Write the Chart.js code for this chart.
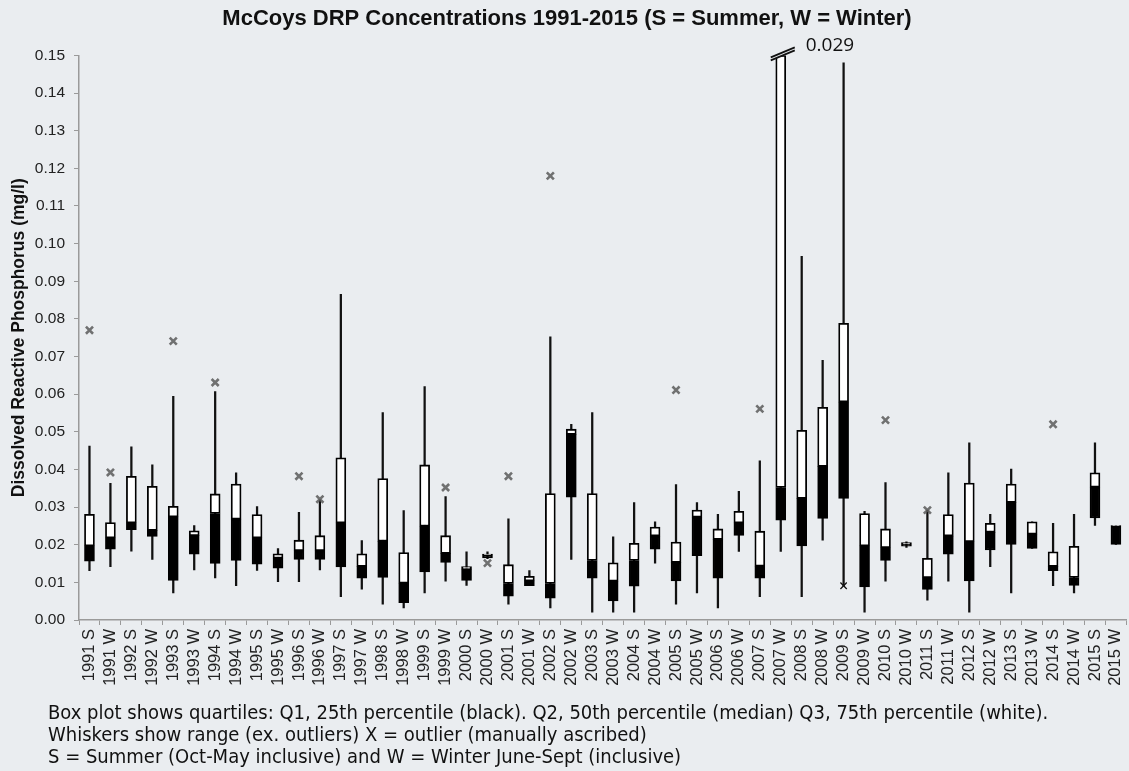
<!DOCTYPE html>
<html>
<head>
<meta charset="utf-8">
<script src="https://cdn.jsdelivr.net/npm/chart.js@4.4.1/dist/chart.umd.min.js"></script>
<style>
  html, body { margin: 0; padding: 0; background: #eaedf0; overflow: hidden; }
  #wrap { position: relative; width: 1129px; height: 771px; overflow: hidden; }
  #c { position: absolute; left: 0; top: 0; }
  #foot { position: absolute; left: 48px; top: 702px; font-family: "Liberation Sans Narrow", "DejaVu Sans Condensed", "Liberation Sans", sans-serif; font-size: 20px; line-height: 21.8px; color: #111; white-space: nowrap; }
</style>
</head>
<body>
<div id="wrap">
  <canvas id="c" width="1134" height="771"></canvas>
  <div id="foot">
    <div>Box plot shows quartiles: Q1, 25th percentile (black). Q2, 50th percentile (median) Q3, 75th percentile (white).</div>
    <div>Whiskers show range (ex. outliers) X = outlier (manually ascribed)</div>
    <div>S = Summer (Oct-May inclusive) and W = Winter June-Sept (inclusive)</div>
  </div>
</div>
<script>
const categories = ["1991 S","1991 W","1992 S","1992 W","1993 S","1993 W","1994 S","1994 W","1995 S","1995 W",
  "1996 S","1996 W","1997 S","1997 W","1998 S","1998 W","1999 S","1999 W","2000 S","2000 W",
  "2001 S","2001 W","2002 S","2002 W","2003 S","2003 W","2004 S","2004 W","2005 S","2005 W",
  "2006 S","2006 W","2007 S","2007 W","2008 S","2008 W","2009 S","2009 W","2010 S","2010 W",
  "2011 S","2011 W","2012 S","2012 W","2013 S","2013 W","2014 S","2014 W","2015 S","2015 W"];

const minVals = [0.0131,0.0142,0.0183,0.0161,0.0072,0.0133,0.0112,0.0091,0.0132,0.0102,
  0.0102,0.0133,0.0062,0.0082,0.0042,0.0032,0.0072,0.0103,0.0092,0.0163,
  0.0042,0.0091,0.0032,0.0161,0.0021,0.0021,0.0021,0.0151,0.0042,0.0072,
  0.0032,0.0182,0.0062,0.0182,0.0062,0.0212,0.0091,0.0021,0.0103,0.0193,
  0.0053,0.0103,0.0021,0.0142,0.0072,0.0190,0.0091,0.0072,0.0251,0.0201];
const q1Vals = [0.0156,0.0188,0.0240,0.0222,0.0105,0.0175,0.0150,0.0158,0.0148,0.0138,
  0.0161,0.0161,0.0141,0.0111,0.0113,0.0046,0.0128,0.0153,0.0105,0.0165,
  0.0063,0.0091,0.0058,0.0326,0.0111,0.0051,0.0090,0.0188,0.0104,0.0171,
  0.0111,0.0225,0.0111,0.0265,0.0197,0.0270,0.0323,0.0088,0.0158,0.0196,
  0.0081,0.0175,0.0104,0.0186,0.0201,0.0190,0.0131,0.0092,0.0271,0.0201];
const medianVals = [0.0197,0.0218,0.0258,0.0238,0.0274,0.0224,0.0283,0.0268,0.0218,0.0164,
  0.0184,0.0184,0.0258,0.0142,0.0209,0.0098,0.0249,0.0177,0.0135,0.0173,
  0.0097,0.0104,0.0097,0.0493,0.0158,0.0103,0.0158,0.0223,0.0153,0.0273,
  0.0214,0.0258,0.0143,0.0352,0.0323,0.0408,0.0579,0.0197,0.0192,0.0202,
  0.0112,0.0223,0.0208,0.0233,0.0312,0.0228,0.0142,0.0113,0.0353,0.0250];
const q3Vals = [0.0281,0.0259,0.0382,0.0355,0.0302,0.0237,0.0335,0.0361,0.0280,0.0176,
  0.0212,0.0224,0.0431,0.0176,0.0376,0.0179,0.0412,0.0224,0.0142,0.0175,
  0.0147,0.0116,0.0336,0.0507,0.0336,0.0152,0.0204,0.0247,0.0207,0.0292,
  0.0242,0.0289,0.0236,0.1500,0.0504,0.0565,0.0788,0.0283,0.0242,0.0206,
  0.0164,0.0280,0.0364,0.0257,0.0361,0.0261,0.0181,0.0196,0.0391,0.0251];
const maxVals = [0.0462,0.0363,0.0460,0.0412,0.0594,0.0251,0.0607,0.0391,0.0301,0.0190,
  0.0286,0.0319,0.0865,0.0211,0.0551,0.0291,0.0620,0.0328,0.0181,0.0181,
  0.0269,0.0131,0.0752,0.0520,0.0551,0.0221,0.0312,0.0261,0.0360,0.0312,
  0.0281,0.0342,0.0423,0.1500,0.0966,0.0690,0.1480,0.0289,0.0365,0.0208,
  0.0292,0.0391,0.0471,0.0281,0.0401,0.0261,0.0257,0.0281,0.0471,0.0251];
const outliers = [0.077,0.0392,null,null,0.0741,null,0.0631,null,null,null,
  0.0382,0.0321,null,null,null,null,null,0.0352,null,0.0151,
  0.0382,null,0.118,null,null,null,null,null,0.0611,null,
  null,null,0.0561,null,null,null,null,null,0.0531,null,
  0.0292,null,null,null,null,null,0.052,null,null,null];
const outliersLow = [null,null,null,null,null,null,null,null,null,null,
  null,null,null,null,null,null,null,null,null,null,
  null,null,null,null,null,null,null,null,null,null,
  null,null,null,null,null,null,0.0091,null,null,null,
  null,null,null,null,null,null,null,null,null,null];
const yTicks = [0,0.01,0.02,0.03,0.04,0.05,0.06,0.07,0.08,0.09,0.10,0.11,0.12,0.13,0.14,0.15];
const breakCategory = "2007 W";
const breakLabel = "0.029";

const breakPlugin = {
  id: 'breakMark',
  afterDatasetsDraw(chart) {
    const x = chart.scales.x.getPixelForValue(categories.indexOf(breakCategory));
    const y = chart.scales.y.getPixelForValue(0.15);
    const ctx = chart.ctx;
    ctx.save();
    ctx.fillStyle = '#eaedf0';
    ctx.beginPath();
    ctx.moveTo(x - 10, y + 2); ctx.lineTo(x + 14, y - 8); ctx.lineTo(x + 14, y - 5); ctx.lineTo(x - 10, y + 5);
    ctx.closePath(); ctx.fill();
    ctx.strokeStyle = '#111'; ctx.lineWidth = 1.7;
    ctx.beginPath(); ctx.moveTo(x - 10, y + 2); ctx.lineTo(x + 14, y - 8); ctx.stroke();
    ctx.beginPath(); ctx.moveTo(x - 10, y + 5); ctx.lineTo(x + 14, y - 5); ctx.stroke();
    ctx.fillStyle = '#111';
    ctx.font = '19px "Open Sans", sans-serif';
    ctx.textBaseline = 'middle';
    ctx.fillText(breakLabel, x + 25, y - 10);
    ctx.restore();
  }
};

new Chart(document.getElementById('c'), {
  type: 'bar',
  data: {
    labels: categories,
    datasets: [
      { label: 'Whisker', data: categories.map((_, i) => [minVals[i], maxVals[i]]),
        backgroundColor: '#111', borderWidth: 0, barThickness: 1.6, grouped: false, order: 5 },
      { label: 'Q1-Median', data: categories.map((_, i) => [q1Vals[i], medianVals[i]]),
        backgroundColor: '#000', borderColor: '#000', borderWidth: 1.5, borderSkipped: false,
        barThickness: 10, grouped: false, order: 3 },
      { label: 'Median-Q3', data: categories.map((_, i) => [medianVals[i], q3Vals[i]]),
        backgroundColor: '#fff', borderColor: '#000', borderWidth: 1.8, borderSkipped: false,
        barThickness: 10, grouped: false, order: 2 },
      { type: 'line', label: 'Outlier', data: outliers, showLine: false,
        pointStyle: 'crossRot', pointRadius: 5, pointBorderWidth: 2.6,
        pointBorderColor: 'rgba(90,90,90,0.85)', pointBackgroundColor: 'rgba(0,0,0,0)', order: 1 },
      { type: 'line', label: 'Outlier low', data: outliersLow, showLine: false,
        pointStyle: 'crossRot', pointRadius: 4.5, pointBorderWidth: 1.3,
        pointBorderColor: '#111', pointBackgroundColor: 'rgba(0,0,0,0)', order: 0 }
    ]
  },
  options: {
    responsive: false,
    animation: false,
    layout: { padding: { left: 0, right: 0, top: 0, bottom: 79 } },
    plugins: {
      legend: { display: false },
      tooltip: { enabled: false },
      title: { display: true, text: 'McCoys DRP Concentrations 1991-2015 (S = Summer, W = Winter)',
        color: '#111', font: { family: 'Liberation Sans, Arial, sans-serif', size: 22, weight: 'bold' },
        padding: { top: 6, bottom: 23 } }
    },
    scales: {
      x: {
        offset: true,
        grid: { display: true, drawOnChartArea: false, offset: true, tickLength: 5, color: '#9a9a9a', lineWidth: 1 },
        border: { display: true, color: '#9a9a9a', width: 1.5 },
        ticks: { autoSkip: false, maxRotation: 90, minRotation: 90, color: '#222',
          font: { family: 'Liberation Sans, Arial, sans-serif', size: 16.5 }, padding: 4 },
        afterFit(s) { s.height = 72; s.paddingRight = 0; s.paddingLeft = 0; }
      },
      y: {
        min: 0, max: 0.15,
        afterBuildTicks(s) { s.ticks = yTicks.map(v => ({ value: v })); },
        grid: { display: true, drawOnChartArea: false, tickLength: 5, color: '#9a9a9a', lineWidth: 1 },
        border: { display: true, color: '#9a9a9a', width: 1.5 },
        ticks: { color: '#222', font: { family: 'Liberation Sans, Arial, sans-serif', size: 15.5 },
          padding: 9, callback: v => Number(v).toFixed(2) },
        title: { display: true, text: 'Dissolved Reactive Phosphorus (mg/l)', color: '#111',
          font: { family: 'Liberation Sans, Arial, sans-serif', size: 17.5, weight: 'bold' }, padding: { top: 9, bottom: 4 } },
        afterFit(s) { s.width = 79; }
      }
    }
  },
  plugins: [breakPlugin]
});
</script>
</body>
</html>
